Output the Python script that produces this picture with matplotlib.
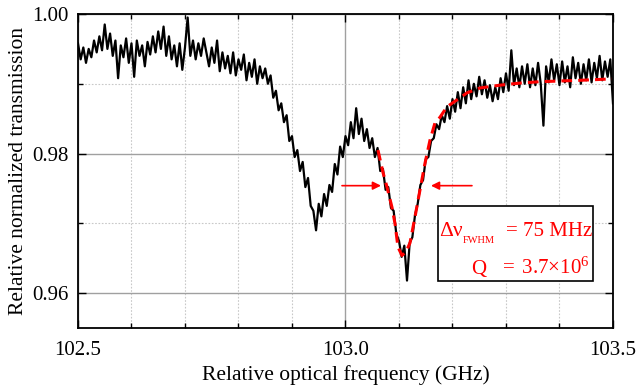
import matplotlib
matplotlib.use("Agg")
import matplotlib.pyplot as plt
import numpy as np
from matplotlib.ticker import MultipleLocator
from matplotlib.patches import Rectangle

plt.rcParams["font.family"] = ["Liberation Serif", "DejaVu Serif"]
plt.rcParams["mathtext.fontset"] = "stix"

# measured transmission, 0.005 GHz steps from 102.5 to 103.5 GHz
freq = np.linspace(102.5, 103.5, 201)
trans = [
    0.9958, 0.9935, 0.9952, 0.9930, 0.9950, 0.9938, 0.9962, 0.9945, 0.9968, 0.9948,
    0.9985, 0.9950, 0.9972, 0.9940, 0.9962, 0.9908, 0.9955, 0.9938, 0.9965, 0.9930,
    0.9958, 0.9910, 0.9962, 0.9940, 0.9955, 0.9925, 0.9960, 0.9942, 0.9968, 0.9945,
    0.9975, 0.9950, 0.9982, 0.9940, 0.9968, 0.9935, 0.9955, 0.9925, 0.9958, 0.9920,
    0.9952, 0.9995, 0.9940, 0.9962, 0.9935, 0.9958, 0.9940, 0.9965, 0.9945, 0.9925,
    0.9952, 0.9930, 0.9962, 0.9918, 0.9945, 0.9922, 0.9940, 0.9915, 0.9945, 0.9912,
    0.9935, 0.9920, 0.9942, 0.9905, 0.9930, 0.9910, 0.9935, 0.9900, 0.9925, 0.9908,
    0.9922, 0.9900, 0.9912, 0.9880, 0.9890, 0.9862, 0.9872, 0.9845, 0.9855, 0.9818,
    0.9825, 0.9795, 0.9805, 0.9775, 0.9788, 0.9752, 0.9765, 0.9725, 0.9718, 0.9690,
    0.9728, 0.9710, 0.9742, 0.9725, 0.9755, 0.9745, 0.9785, 0.9770, 0.9810, 0.9795,
    0.9825, 0.9812, 0.9845, 0.9822, 0.9865, 0.9828, 0.9850, 0.9818, 0.9835, 0.9808,
    0.9822, 0.9795, 0.9808, 0.9775, 0.9778, 0.9748, 0.9752, 0.9722, 0.9718, 0.9685,
    0.9675, 0.9652, 0.9668, 0.9618, 0.9672, 0.9680, 0.9712, 0.9728, 0.9755, 0.9762,
    0.9792, 0.9795, 0.9818, 0.9822, 0.9842, 0.9835, 0.9855, 0.9845, 0.9868, 0.9850,
    0.9878, 0.9860, 0.9888, 0.9865, 0.9895, 0.9872, 0.9905, 0.9878, 0.9900, 0.9882,
    0.9910, 0.9885, 0.9905, 0.9880, 0.9898, 0.9875, 0.9895, 0.9878, 0.9908, 0.9888,
    0.9915, 0.9890, 0.9948, 0.9898, 0.9922, 0.9895, 0.9925, 0.9900, 0.9928, 0.9895,
    0.9922, 0.9898, 0.9930, 0.9900, 0.9840, 0.9925, 0.9902, 0.9935, 0.9905, 0.9928,
    0.9898, 0.9932, 0.9902, 0.9925, 0.9895, 0.9938, 0.9908, 0.9930, 0.9900, 0.9928,
    0.9905, 0.9935, 0.9902, 0.9930, 0.9908, 0.9940, 0.9905, 0.9932, 0.9910, 0.9935,
    0.9872,
]

# lorentzian fit
fit_freq = [103.0607, 103.0701, 103.0776, 103.0869, 103.0925, 103.0981, 103.1056,
            103.1131, 103.1206, 103.1299, 103.1393, 103.1486, 103.1579, 103.1673,
            103.1766, 103.1897, 103.2047, 103.2271, 103.2514, 103.2888, 103.3262,
            103.3636, 103.4009, 103.4383, 103.4981]
fit_trans = [0.9805, 0.9773, 0.9752, 0.9723, 0.9700, 0.9666, 0.9654,
             0.9659, 0.9672, 0.9709, 0.9748, 0.9786, 0.9819, 0.9844,
             0.9852, 0.9867, 0.9875, 0.9887, 0.9894, 0.9898, 0.9901,
             0.9903, 0.9904, 0.9905, 0.9907]

# FWHM arrow markers (tail, tip) and their level
fwhm_left = (102.9935, 103.0664)
fwhm_right = (103.2364, 103.1598)
fwhm_level = 0.9754

fig = plt.figure(figsize=(6.36, 3.88), dpi=100)
ax = fig.add_axes([0.1226, 0.1546, 0.8412, 0.8093])

ax.plot(freq, trans, color="black", lw=1.6, zorder=3)
ax.plot(fit_freq, fit_trans, color="red", lw=2.2, ls=(0, (3.5, 2)), zorder=4)

for tail, tip in (fwhm_left, fwhm_right):
    ax.annotate("", xy=(tip, fwhm_level), xytext=(tail, fwhm_level),
                arrowprops=dict(arrowstyle="-|>", color="red", lw=1.2,
                                mutation_scale=12, shrinkA=0, shrinkB=0),
                zorder=5)

ax.set_xlim(102.5, 103.5)
ax.set_ylim(0.955, 1.00)
ax.xaxis.set_major_locator(MultipleLocator(0.5))
ax.xaxis.set_minor_locator(MultipleLocator(0.1))
ax.yaxis.set_major_locator(MultipleLocator(0.02))
ax.yaxis.set_minor_locator(MultipleLocator(0.01))
ax.xaxis.set_major_formatter(lambda v, p: f"{v:.1f}")
ax.yaxis.set_major_formatter(lambda v, p: f"{v:.2f}")

ax.grid(which="major", color="#a0a0a0", lw=1.0, ls="-")
ax.grid(which="minor", color="#c8c8c8", lw=0.8, ls=(0, (1.5, 1.5)))
ax.set_axisbelow(True)

ax.tick_params(which="both", direction="in", top=True, right=True,
               labelsize=15, width=1.0)
ax.tick_params(which="major", length=6)
ax.tick_params(axis="x", which="major", pad=9)
ax.tick_params(axis="y", which="major", pad=7)
ax.tick_params(which="minor", length=3.5)
for s in ax.spines.values():
    s.set_linewidth(1.3)

ax.set_xlabel("Relative optical frequency (GHz)", fontsize=15.5, labelpad=4)
ax.set_ylabel("Relative normalized transmission", fontsize=15.5, labelpad=3)

# info box
box = Rectangle((438 / 636, 1 - 281 / 388), 155 / 636, 75 / 388,
                transform=fig.transFigure, facecolor="white",
                edgecolor="black", lw=1.2, zorder=6)
fig.patches.append(box)
fig.text(439 / 636, 1 - 236 / 388, "Δν", color="red", fontsize=15.5,
         va="baseline", ha="left", zorder=7)
fig.text(463 / 636, 1 - 243 / 388, "FWHM", color="red", fontsize=7.5,
         va="baseline", ha="left", zorder=7)
fig.text(592 / 636, 1 - 236 / 388, "= 75 MHz", color="red", fontsize=15,
         va="baseline", ha="right", zorder=7)
fig.text(471 / 636, 1 - 274 / 388, "Q", color="red", fontsize=15,
         va="baseline", ha="left", zorder=7)
fig.text(590 / 636, 1 - 274 / 388, r"$\mathregular{=\ 3.7{\times}10^6}$",
         color="red", fontsize=15, va="baseline", ha="right", zorder=7)

fig.savefig("out.png", dpi=100)
